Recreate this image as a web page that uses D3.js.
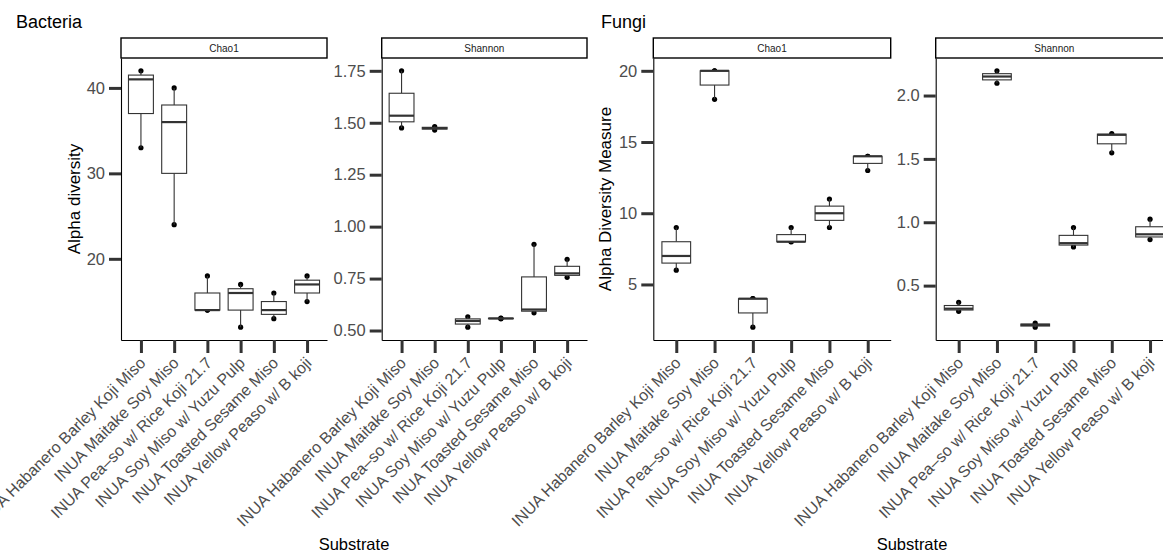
<!DOCTYPE html>
<html lang="en">
<head>
    <meta charset="utf-8">
    <title>Alpha diversity - Bacteria / Fungi</title>
    <style>
        body {
          margin: 0;
          background: white;
          font-family: 'Liberation Sans', Arial, Helvetica, sans-serif;
        }
        svg text {
          font-family: 'Liberation Sans', Arial, Helvetica, sans-serif;
        }
        .axis .domain {
          stroke: black;
          stroke-width: 1.1px;
        }
        .axis .tick line {
          stroke: #333333;
          stroke-width: 3px;
        }
        .axis .tick text {
          fill: #4d4d4d;
        }
    </style>
</head>
<body>
<div id="canvas"></div>
<script src="https://cdnjs.cloudflare.com/ajax/libs/d3/7.8.5/d3.min.js"></script>
<script>
    // Categories (x axis, same for every panel)
    var substrates = [
      "INUA Habanero Barley Koji Miso",
      "INUA Maitake Soy Miso",
      "INUA Pea\u2013so w/ Rice Koji 21.7",
      "INUA Soy Miso w/ Yuzu Pulp",
      "INUA Toasted Sesame Miso",
      "INUA Yellow Peaso w/ B koji"
    ];

    // Three samples per substrate
    var bacteriaChao1 = [[33, 41, 42], [24, 36, 40], [14, 14, 18], [12, 16, 17], [13, 14, 16], [15, 17, 18]];
    var bacteriaShannon = [[1.475, 1.534, 1.75], [1.465, 1.474, 1.482], [0.516, 0.546, 0.566],
                           [0.556, 0.558, 0.560], [0.585, 0.601, 0.915], [0.756, 0.775, 0.843]];
    var fungiChao1 = [[6, 7, 9], [18, 20, 20], [2, 4, 4], [8, 8, 9], [9, 10, 11], [13, 14, 14]];
    var fungiShannon = [[0.297, 0.318, 0.368], [2.097, 2.15, 2.195], [0.172, 0.19, 0.204],
                        [0.805, 0.835, 0.958], [1.548, 1.69, 1.70], [0.863, 0.905, 1.024]];

    // Tick values per panel
    var bacteriaChao1Ticks = [20, 30, 40];
    var bacteriaShannonTicks = [0.5, 0.75, 1.0, 1.25, 1.5, 1.75];
    var fungiChao1Ticks = [5, 10, 15, 20];
    var fungiShannonTicks = [0.5, 1.0, 1.5, 2.0];

    var W = 1163, H = 553;
    var stripTop = 38, panelTop = 58, panelBottom = 340;

    var svg = d3.select("#canvas").append("svg")
        .attr("width", W)
        .attr("height", H);

    var panels = [
      {name: "Chao1", values: bacteriaChao1, ticks: bacteriaChao1Ticks, fmt: d3.format("d"), x0: 121, x1: 327},
      {name: "Shannon", values: bacteriaShannon, ticks: bacteriaShannonTicks, fmt: d3.format(".2f"), x0: 381.7, x1: 587},
      {name: "Chao1", values: fungiChao1, ticks: fungiChao1Ticks, fmt: d3.format("d"), x0: 653.3, x1: 890.7},
      {name: "Shannon", values: fungiShannon, ticks: fungiShannonTicks, fmt: d3.format(".1f"), x0: 935.7, x1: 1173}
    ];

    // box stats like ggplot (type 7 quantiles, 1.5 IQR whiskers)
    function boxStats(v) {
      var s = v.slice().sort(d3.ascending);
      var q1 = d3.quantile(s, 0.25), med = d3.quantile(s, 0.5), q3 = d3.quantile(s, 0.75);
      var iqr = q3 - q1;
      var lo = d3.min(s.filter(function(d) { return d >= q1 - 1.5 * iqr; }));
      var hi = d3.max(s.filter(function(d) { return d <= q3 + 1.5 * iqr; }));
      return {q1: q1, med: med, q3: q3, lo: lo, hi: hi};
    }

    panels.forEach(function(p) {
      var all = d3.merge(p.values);
      var ext = d3.extent(all), pad = (ext[1] - ext[0]) * 0.05;

      var x = d3.scalePoint().domain(substrates).range([p.x0, p.x1]).padding(0.6);
      var y = d3.scaleLinear().domain([ext[0] - pad, ext[1] + pad]).range([panelBottom, panelTop]);
      var bw = x.step() * 0.75;

      var g = svg.append("g");

      // strip
      g.append("rect")
        .attr("x", p.x0)
        .attr("y", stripTop)
        .attr("width", p.x1 - p.x0)
        .attr("height", panelTop - stripTop)
        .attr("fill", "white")
        .attr("stroke", "black")
        .attr("stroke-width", 1.4);
      g.append("text")
        .text(p.name)
        .attr("x", (p.x0 + p.x1) / 2)
        .attr("y", (stripTop + panelTop) / 2 + 3.5)
        .style("text-anchor", "middle")
        .style("font-size", "10px")
        .style("fill", "#1a1a1a");

      // axes
      g.append("g")
        .attr("class", "axis")
        .attr("transform", "translate(" + p.x0 + ",0)")
        .call(d3.axisLeft(y).tickValues(p.ticks).tickFormat(p.fmt).tickSize(12).tickSizeOuter(0).tickPadding(4))
        .selectAll(".tick text").style("font-size", "16.5px");

      var xa = g.append("g")
        .attr("class", "axis")
        .attr("transform", "translate(0," + panelBottom + ")")
        .call(d3.axisBottom(x).tickSize(13).tickSizeOuter(0));
      xa.selectAll(".tick text")
        .attr("x", 0)
        .attr("y", 0)
        .attr("dy", "0.71em")
        .attr("transform", "translate(-3,16) rotate(-45)")
        .style("text-anchor", "end")
        .style("font-size", "16px");

      var groups = p.values.map(function(v, i) { return {cat: substrates[i], s: boxStats(v), v: v}; });

      // sample points first, the boxes are drawn over them
      g.append("g").selectAll("circle")
        .data(d3.merge(groups.map(function(d) { return d.v.map(function(val) { return {cat: d.cat, val: val}; }); })))
        .enter().append("circle")
        .attr("cx", function(d) { return x(d.cat); })
        .attr("cy", function(d) { return y(d.val); })
        .attr("r", 2.6)
        .attr("fill", "black");

      // boxplots
      var boxes = g.selectAll("g.box")
        .data(groups)
        .enter().append("g")
        .attr("class", "box");

      boxes.append("line")
        .attr("x1", function(d) { return x(d.cat); })
        .attr("x2", function(d) { return x(d.cat); })
        .attr("y1", function(d) { return y(d.s.hi); })
        .attr("y2", function(d) { return y(d.s.q3); })
        .attr("stroke", "#333333").attr("stroke-width", 1.1);
      boxes.append("line")
        .attr("x1", function(d) { return x(d.cat); })
        .attr("x2", function(d) { return x(d.cat); })
        .attr("y1", function(d) { return y(d.s.q1); })
        .attr("y2", function(d) { return y(d.s.lo); })
        .attr("stroke", "#333333").attr("stroke-width", 1.1);
      boxes.append("rect")
        .attr("x", function(d) { return x(d.cat) - bw / 2; })
        .attr("y", function(d) { return y(d.s.q3); })
        .attr("width", bw)
        .attr("height", function(d) { return y(d.s.q1) - y(d.s.q3); })
        .attr("fill", "white")
        .attr("stroke", "#333333").attr("stroke-width", 1.1);
      boxes.append("line")
        .attr("x1", function(d) { return x(d.cat) - bw / 2; })
        .attr("x2", function(d) { return x(d.cat) + bw / 2; })
        .attr("y1", function(d) { return y(d.s.med); })
        .attr("y2", function(d) { return y(d.s.med); })
        .attr("stroke", "#333333").attr("stroke-width", 2.2);
    });

    // titles
    svg.append("text").text("Bacteria")
      .attr("x", 16).attr("y", 28)
      .style("font-size", "18px");
    svg.append("text").text("Fungi")
      .attr("x", 601).attr("y", 28)
      .style("font-size", "18px");

    svg.append("text").text("Alpha diversity")
      .attr("transform", "translate(80," + (panelTop + panelBottom) / 2 + ") rotate(-90)")
      .style("text-anchor", "middle")
      .style("font-size", "17px");
    svg.append("text").text("Alpha Diversity Measure")
      .attr("transform", "translate(611," + (panelTop + panelBottom) / 2 + ") rotate(-90)")
      .style("text-anchor", "middle")
      .style("font-size", "17px");

    svg.append("text").text("Substrate")
      .attr("x", 354).attr("y", 550)
      .style("text-anchor", "middle")
      .style("font-size", "16.5px");
    svg.append("text").text("Substrate")
      .attr("x", 912).attr("y", 550)
      .style("text-anchor", "middle")
      .style("font-size", "16.5px");
</script>
</body>
</html>
